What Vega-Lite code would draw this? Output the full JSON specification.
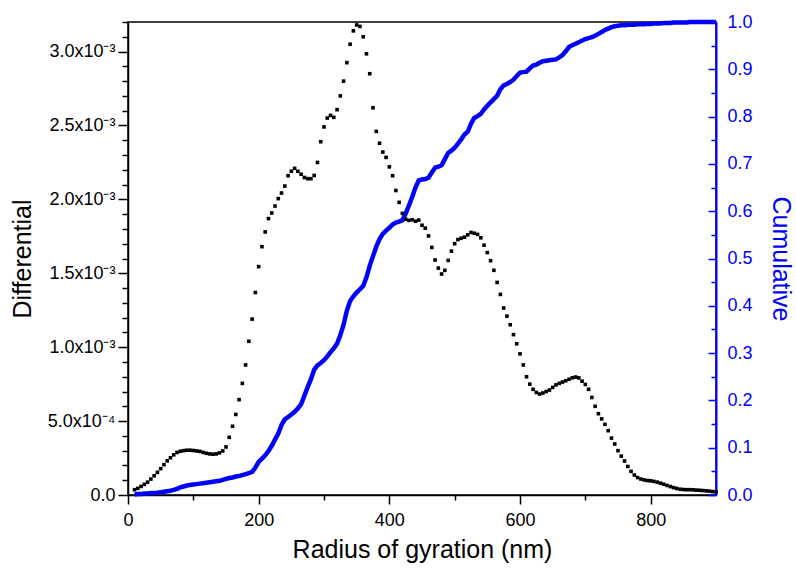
{
  "$schema": "https://vega.github.io/schema/vega-lite/v6.json",
  "width": 588,
  "height": 473,
  "autosize": {"type": "none"},
  "padding": {"left": 128, "top": 22, "right": 80, "bottom": 75},
  "config": {
    "view": {"stroke": "black", "strokeWidth": 1.5},
    "font": "Liberation Sans",
    "axis": {"grid": false, "labelFont": "Liberation Sans", "titleFont": "Liberation Sans", "titleFontWeight": "normal", "labelFontSize": 18, "titleFontSize": 25}
  },
  "data": {"values": [
    {"r":10,"d":0.000036,"c":0.001},{"r":15,"d":0.000045,"c":0.002},{"r":20,"d":0.000058,"c":0.002},{"r":25,"d":0.000072,"c":0.003},
    {"r":30,"d":0.000087,"c":0.003},{"r":35,"d":0.000108,"c":0.004},{"r":40,"d":0.000130,"c":0.004},{"r":45,"d":0.000153,"c":0.005},
    {"r":50,"d":0.000178,"c":0.006},{"r":55,"d":0.000205,"c":0.007},{"r":60,"d":0.000231,"c":0.008},{"r":65,"d":0.000252,"c":0.009},
    {"r":70,"d":0.000272,"c":0.011},{"r":75,"d":0.000288,"c":0.013},{"r":80,"d":0.000296,"c":0.016},{"r":85,"d":0.000300,"c":0.018},
    {"r":90,"d":0.000303,"c":0.020},{"r":95,"d":0.000303,"c":0.021},{"r":100,"d":0.000301,"c":0.022},{"r":105,"d":0.000298,"c":0.023},
    {"r":110,"d":0.000295,"c":0.024},{"r":115,"d":0.000288,"c":0.025},{"r":120,"d":0.000282,"c":0.026},{"r":125,"d":0.000278,"c":0.027},
    {"r":130,"d":0.000276,"c":0.028},{"r":135,"d":0.000278,"c":0.029},{"r":140,"d":0.000285,"c":0.030},{"r":145,"d":0.000298,"c":0.032},
    {"r":150,"d":0.000325,"c":0.034},{"r":155,"d":0.000390,"c":0.036},{"r":160,"d":0.000465,"c":0.037},{"r":165,"d":0.000545,"c":0.039},
    {"r":170,"d":0.000645,"c":0.040},{"r":175,"d":0.000755,"c":0.042},{"r":180,"d":0.000880,"c":0.044},{"r":185,"d":0.001040,"c":0.046},
    {"r":190,"d":0.001190,"c":0.049},{"r":195,"d":0.001370,"c":0.058},{"r":200,"d":0.001545,"c":0.070},{"r":205,"d":0.001680,"c":0.077},
    {"r":210,"d":0.001780,"c":0.084},{"r":215,"d":0.001870,"c":0.093},{"r":220,"d":0.001908,"c":0.104},{"r":225,"d":0.001955,"c":0.117},
    {"r":230,"d":0.002005,"c":0.130},{"r":235,"d":0.002043,"c":0.148},{"r":240,"d":0.002090,"c":0.160},{"r":245,"d":0.002160,"c":0.165},
    {"r":250,"d":0.002190,"c":0.170},{"r":255,"d":0.002210,"c":0.176},{"r":260,"d":0.002190,"c":0.183},{"r":265,"d":0.002170,"c":0.192},
    {"r":270,"d":0.002148,"c":0.210},{"r":275,"d":0.002140,"c":0.228},{"r":280,"d":0.002140,"c":0.245},{"r":285,"d":0.002162,"c":0.265},
    {"r":290,"d":0.002250,"c":0.274},{"r":295,"d":0.002390,"c":0.279},{"r":300,"d":0.002490,"c":0.285},{"r":305,"d":0.002550,"c":0.293},
    {"r":310,"d":0.002568,"c":0.302},{"r":315,"d":0.002555,"c":0.310},{"r":320,"d":0.002607,"c":0.320},{"r":325,"d":0.002700,"c":0.338},
    {"r":330,"d":0.002800,"c":0.360},{"r":335,"d":0.002925,"c":0.390},{"r":340,"d":0.003050,"c":0.410},{"r":345,"d":0.003140,"c":0.420},
    {"r":350,"d":0.003180,"c":0.428},{"r":355,"d":0.003170,"c":0.435},{"r":360,"d":0.003100,"c":0.442},{"r":365,"d":0.002985,"c":0.460},
    {"r":370,"d":0.002850,"c":0.485},{"r":375,"d":0.002620,"c":0.505},{"r":380,"d":0.002460,"c":0.525},{"r":385,"d":0.002380,"c":0.541},
    {"r":390,"d":0.002320,"c":0.552},{"r":395,"d":0.002284,"c":0.559},{"r":400,"d":0.002220,"c":0.565},{"r":405,"d":0.002160,"c":0.572},
    {"r":410,"d":0.002060,"c":0.576},{"r":415,"d":0.001980,"c":0.578},{"r":420,"d":0.001905,"c":0.581},{"r":425,"d":0.001866,"c":0.595},
    {"r":430,"d":0.001858,"c":0.612},{"r":435,"d":0.001862,"c":0.630},{"r":440,"d":0.001852,"c":0.650},{"r":445,"d":0.001860,"c":0.665},
    {"r":450,"d":0.001825,"c":0.667},{"r":455,"d":0.001805,"c":0.668},{"r":460,"d":0.001753,"c":0.671},{"r":465,"d":0.001675,"c":0.682},
    {"r":470,"d":0.001590,"c":0.692},{"r":475,"d":0.001535,"c":0.694},{"r":480,"d":0.001495,"c":0.697},{"r":485,"d":0.001520,"c":0.710},
    {"r":490,"d":0.001587,"c":0.723},{"r":495,"d":0.001650,"c":0.728},{"r":500,"d":0.001700,"c":0.734},{"r":505,"d":0.001728,"c":0.743},
    {"r":510,"d":0.001737,"c":0.752},{"r":515,"d":0.001744,"c":0.762},{"r":520,"d":0.001760,"c":0.768},{"r":525,"d":0.001776,"c":0.785},
    {"r":530,"d":0.001771,"c":0.797},{"r":535,"d":0.001763,"c":0.801},{"r":540,"d":0.001740,"c":0.806},{"r":545,"d":0.001690,"c":0.815},
    {"r":550,"d":0.001640,"c":0.823},{"r":555,"d":0.001585,"c":0.830},{"r":560,"d":0.001520,"c":0.837},{"r":565,"d":0.001438,"c":0.844},
    {"r":570,"d":0.001357,"c":0.858},{"r":575,"d":0.001265,"c":0.866},{"r":580,"d":0.001210,"c":0.869},{"r":585,"d":0.001152,"c":0.873},
    {"r":590,"d":0.001085,"c":0.878},{"r":595,"d":0.001023,"c":0.886},{"r":600,"d":0.000955,"c":0.893},{"r":605,"d":0.000880,"c":0.894},
    {"r":610,"d":0.000800,"c":0.895},{"r":615,"d":0.000750,"c":0.902},{"r":620,"d":0.000715,"c":0.908},{"r":625,"d":0.000694,"c":0.910},
    {"r":630,"d":0.000683,"c":0.914},{"r":635,"d":0.000690,"c":0.917},{"r":640,"d":0.000700,"c":0.918},{"r":645,"d":0.000710,"c":0.919},
    {"r":650,"d":0.000728,"c":0.920},{"r":655,"d":0.000745,"c":0.921},{"r":660,"d":0.000755,"c":0.925},{"r":665,"d":0.000764,"c":0.930},
    {"r":670,"d":0.000773,"c":0.938},{"r":675,"d":0.000783,"c":0.947},{"r":680,"d":0.000793,"c":0.951},{"r":685,"d":0.000798,"c":0.954},
    {"r":690,"d":0.000792,"c":0.957},{"r":695,"d":0.000770,"c":0.961},{"r":700,"d":0.000748,"c":0.964},{"r":705,"d":0.000715,"c":0.966},
    {"r":710,"d":0.000660,"c":0.968},{"r":715,"d":0.000600,"c":0.971},{"r":720,"d":0.000550,"c":0.975},{"r":725,"d":0.000515,"c":0.979},
    {"r":730,"d":0.000478,"c":0.983},{"r":735,"d":0.000435,"c":0.986},{"r":740,"d":0.000385,"c":0.989},{"r":745,"d":0.000345,"c":0.991},
    {"r":750,"d":0.000300,"c":0.992},{"r":755,"d":0.000263,"c":0.993},{"r":760,"d":0.000230,"c":0.993},{"r":765,"d":0.000193,"c":0.994},
    {"r":770,"d":0.000160,"c":0.994},{"r":775,"d":0.000135,"c":0.994},{"r":780,"d":0.000118,"c":0.995},{"r":785,"d":0.000108,"c":0.995},
    {"r":790,"d":0.000102,"c":0.995},{"r":795,"d":0.000098,"c":0.996},{"r":800,"d":0.000096,"c":0.996},{"r":805,"d":0.000092,"c":0.997},
    {"r":810,"d":0.000087,"c":0.997},{"r":815,"d":0.000080,"c":0.997},{"r":820,"d":0.000073,"c":0.998},{"r":825,"d":0.000065,"c":0.998},
    {"r":830,"d":0.000057,"c":0.998},{"r":835,"d":0.000050,"c":0.999},{"r":840,"d":0.000044,"c":0.999},{"r":845,"d":0.000039,"c":0.999},
    {"r":850,"d":0.000037,"c":0.999},{"r":855,"d":0.000036,"c":0.999},{"r":860,"d":0.000036,"c":1.0},{"r":865,"d":0.000035,"c":1.0},
    {"r":870,"d":0.000033,"c":1.0},{"r":875,"d":0.000032,"c":1.0},{"r":880,"d":0.000030,"c":1.0},{"r":885,"d":0.000028,"c":1.0},
    {"r":890,"d":0.000026,"c":1.0},{"r":895,"d":0.000023,"c":1.0},{"r":900,"d":0.000021,"c":1.0}
  ]},
  "encoding": {
    "x": {
      "field": "r", "type": "quantitative",
      "scale": {"domain": [0, 900], "nice": false},
      "axis": {
        "title": "Radius of gyration (nm)",
        "values": [0, 100, 200, 300, 400, 500, 600, 700, 800],
        "labelExpr": "datum.value % 200 == 0 ? format(datum.value, 'd') : ''",
        "domainColor": "black", "domainWidth": 1.5,
        "tickColor": "black", "tickWidth": 1.5,
        "tickSize": {"condition": {"test": "datum.value % 200 == 0", "value": 9}, "value": 5},
        "labelPadding": 7, "labelColor": "black", "titleColor": "black",
        "titlePadding": 8, "labelFlush": false
      }
    }
  },
  "layer": [
    {
      "mark": {"type": "line", "color": "#0000ff", "strokeWidth": 4.5},
      "encoding": {
        "y": {
          "field": "c", "type": "quantitative",
          "scale": {"domain": [0, 1], "nice": false},
          "axis": {
            "orient": "right", "title": "Cumulative",
            "values": [0, 0.05, 0.1, 0.15, 0.2, 0.25, 0.3, 0.35, 0.4, 0.45, 0.5, 0.55, 0.6, 0.65, 0.7, 0.75, 0.8, 0.85, 0.9, 0.95, 1.0],
            "labelExpr": "round(datum.value * 100) % 10 == 0 ? format(datum.value, '.1f') : ''",
            "domainColor": "#0000ff", "domainWidth": 2,
            "tickColor": "#0000ff", "tickWidth": 1.5,
            "tickSize": {"condition": {"test": "round(datum.value * 100) % 10 == 0", "value": -8}, "value": -5},
            "labelPadding": 19, "labelColor": "#0000ff", "titleColor": "#0000ff",
            "titlePadding": 15, "labelFlush": false
          }
        }
      }
    },
    {
      "mark": {"type": "point", "shape": "square", "filled": true, "color": "black", "size": 13, "opacity": 1},
      "encoding": {
        "y": {
          "field": "d", "type": "quantitative",
          "scale": {"domain": [0, 0.0032], "nice": false},
          "axis": {
            "orient": "left", "title": "Differential",
            "values": [0, 0.0001, 0.0002, 0.0003, 0.0004, 0.0005, 0.0006, 0.0007, 0.0008, 0.0009, 0.001, 0.0011, 0.0012, 0.0013, 0.0014, 0.0015, 0.0016, 0.0017, 0.0018, 0.0019, 0.002, 0.0021, 0.0022, 0.0023, 0.0024, 0.0025, 0.0026, 0.0027, 0.0028, 0.0029, 0.003, 0.0031, 0.0032],
            "labelExpr": "round(datum.value * 10000) % 5 != 0 ? '' : datum.value == 0 ? '0.0' : datum.value < 0.00099 ? format(datum.value * 10000, '.1f') + 'x10⁻⁴' : format(datum.value * 1000, '.1f') + 'x10⁻³'",
            "domainColor": "black", "domainWidth": 1.5,
            "tickColor": "black", "tickWidth": 1.5,
            "tickSize": {"condition": {"test": "round(datum.value * 10000) % 5 == 0", "value": 10}, "value": 6},
            "labelPadding": 3, "labelColor": "black", "titleColor": "black",
            "titlePadding": 12, "labelFlush": false
          }
        }
      }
    }
  ],
  "resolve": {"scale": {"y": "independent"}}
}
